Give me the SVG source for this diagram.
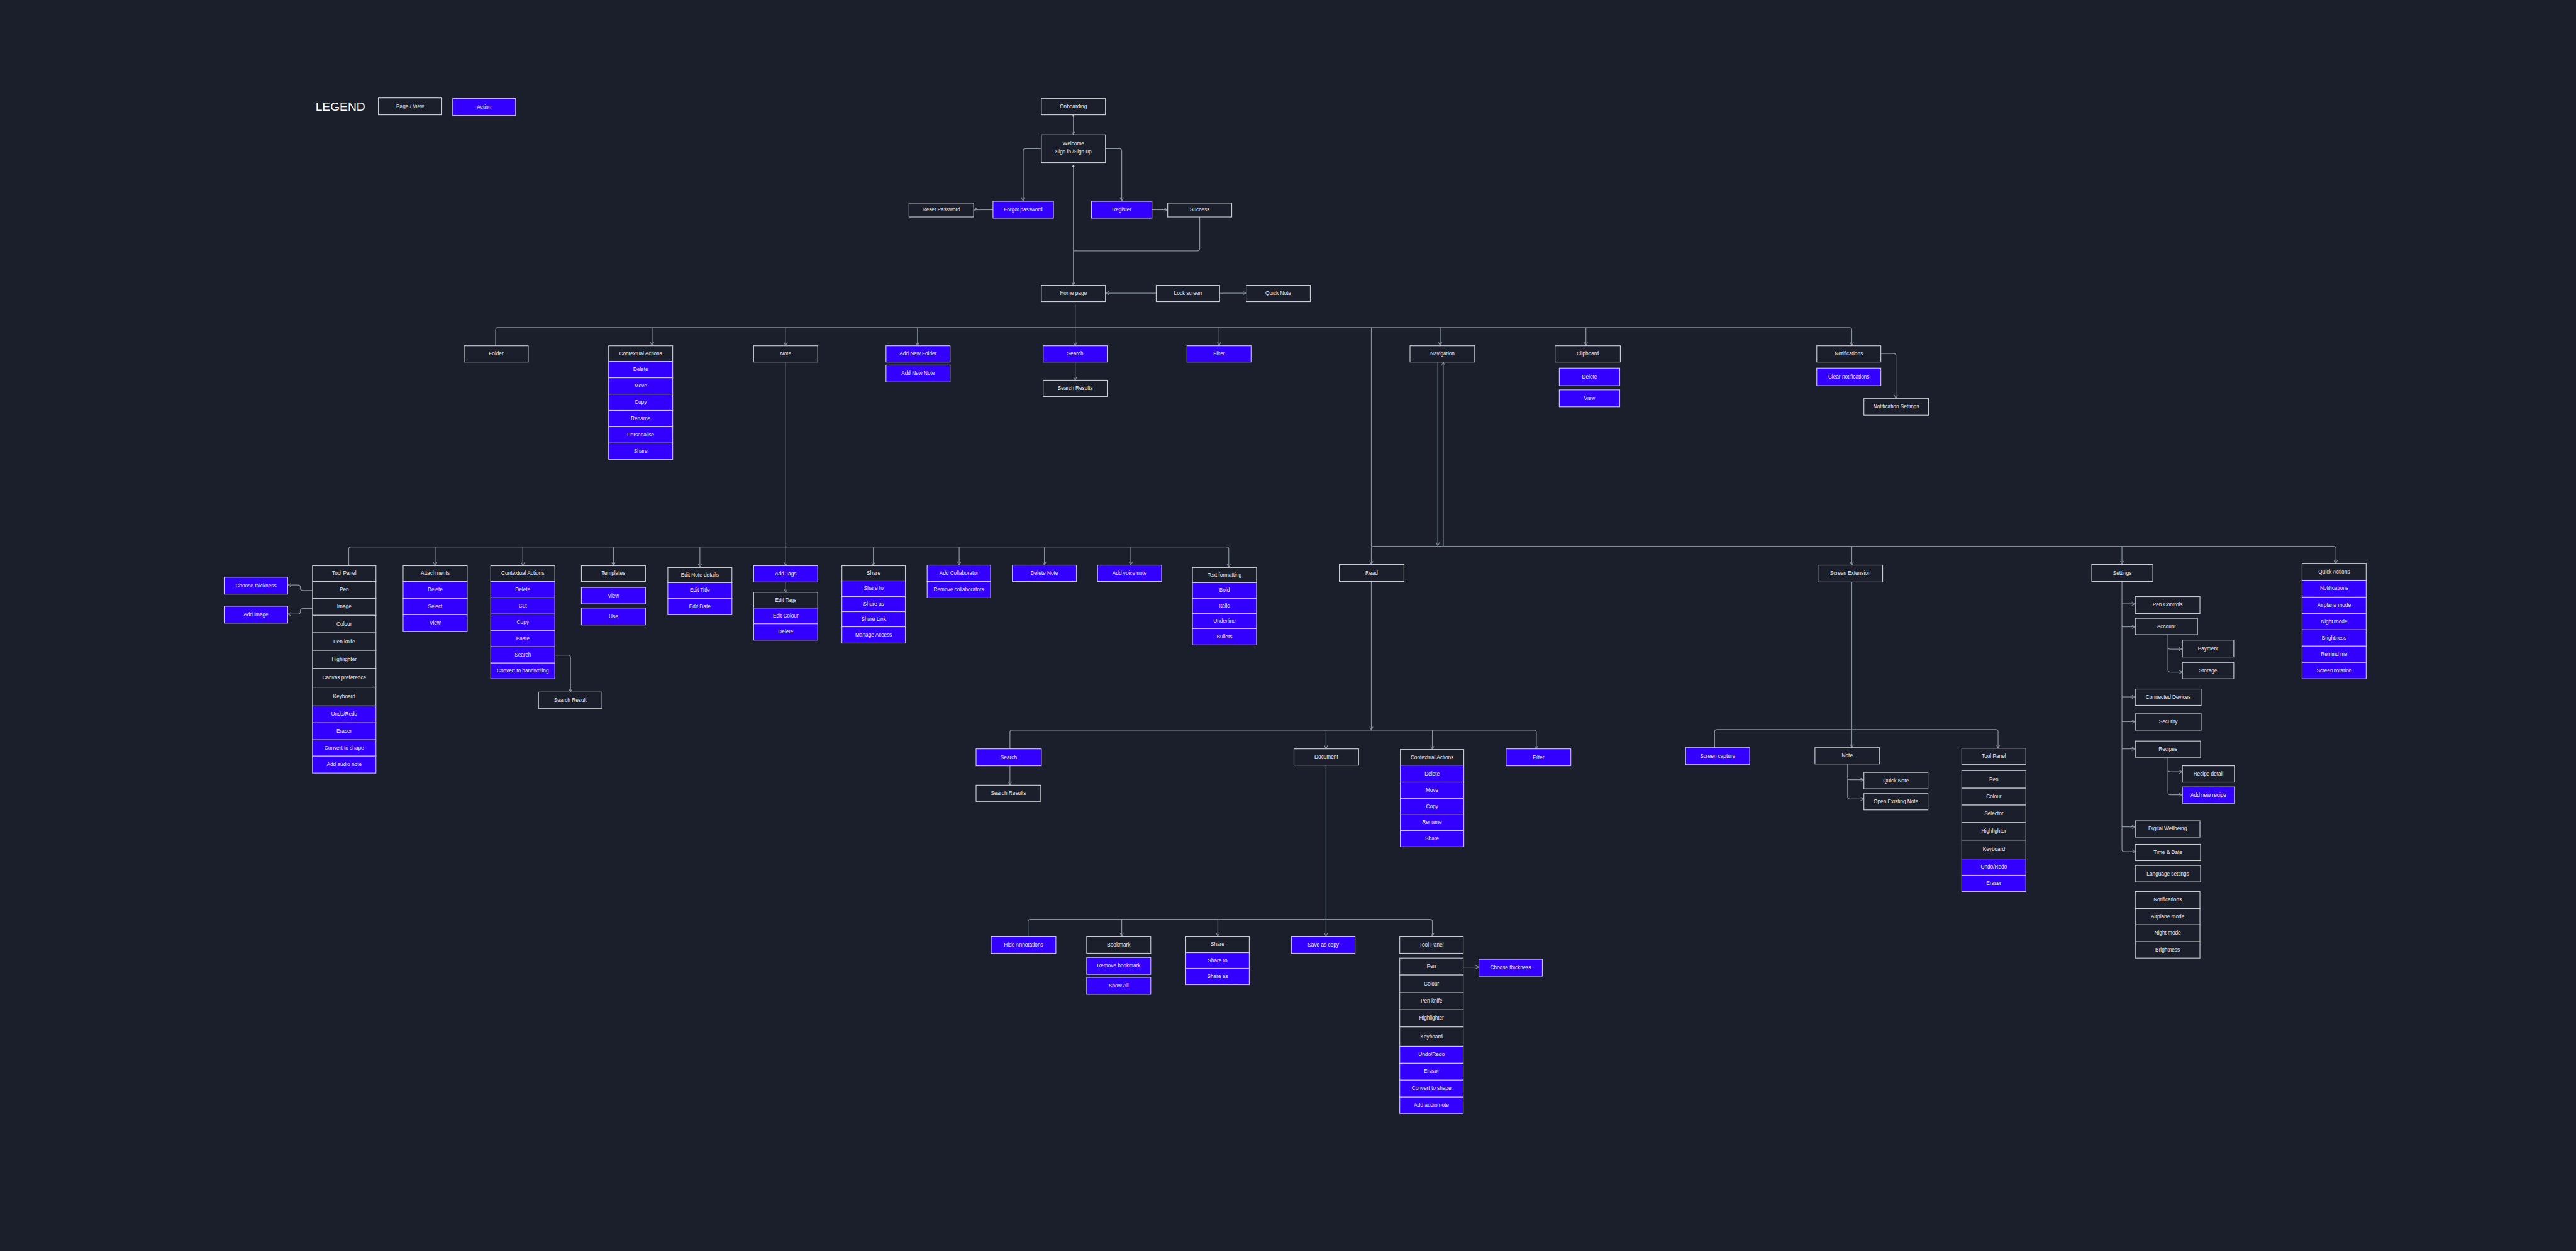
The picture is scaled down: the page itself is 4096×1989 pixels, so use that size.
<svg xmlns="http://www.w3.org/2000/svg" width="4096" height="1989" viewBox="0 0 4096 1989">
<defs>
<style>
.p rect{fill:#1b1f2b;stroke:#c9ccd3;stroke-width:1.2}
.a rect{fill:#3300ff;stroke:#c9c2ff;stroke-width:1.2}
text{font-family:"Liberation Sans",Arial,sans-serif;font-size:8.6px;fill:#eeeef2;text-anchor:middle;dominant-baseline:central}
.lg{font-size:20px;text-anchor:start;fill:#ffffff}
#conn path{fill:none;stroke:#8a8f9c;stroke-width:1.3}
#conn path.m{marker-end:url(#ah)}
#conn circle{fill:#c9ccd3}
</style>
<marker id="ah" viewBox="0 0 10 10" refX="9" refY="5" markerWidth="7" markerHeight="7" markerUnits="userSpaceOnUse" orient="auto"><path d="M1,1 L9,5 L1,9" fill="none" stroke="#8a8f9c" stroke-width="1.5"/></marker>
</defs>
<rect x="0" y="0" width="4096" height="1989" fill="#1b1f2b"/>
<g transform="scale(0.961)">
<g id="conn">
<path class="m" d="M1776,191 V223"/>
<circle cx="1776" cy="191.5" r="1.6"/>
<path class="m" d="M1723,246 H1697 Q1693,246 1693,250 V333"/>
<path class="m" d="M1829,246 H1852 Q1856,246 1856,250 V333"/>
<path class="m" d="M1643,347 H1611"/>
<path class="m" d="M1906,347 H1932"/>
<path d="M1985,358 V411 Q1985,415 1981,415 H1776"/>
<path class="m" d="M1776,275 V472"/>
<circle cx="1776" cy="275" r="1.6"/>
<path class="m" d="M1913,485 H1829"/>
<path class="m" d="M2018,485 H2062"/>
<path class="m" d="M1779,504 V572"/>
<path class="m" d="M820,572 V546 Q820,542 824,542 H3060 Q3064,542 3064,546 V572"/>
<path class="m" d="M1079,542 V572"/>
<path class="m" d="M1300,542 V572"/>
<path class="m" d="M1518,542 V572"/>
<path class="m" d="M2017,542 V572"/>
<path class="m" d="M2383,542 V572"/>
<path class="m" d="M2624,542 V572"/>
<path class="m" d="M1779,599 V629"/>
<path class="m" d="M3112,585 H3133 Q3137,585 3137,589 V659"/>
<path class="m" d="M1300,599 V936"/>
<path class="m" d="M1300,963 V980"/>
<path class="m" d="M577,936 V909 Q577,905 581,905 H2029 Q2033,905 2033,909 V939"/>
<path class="m" d="M720,905 V936"/>
<path class="m" d="M865,905 V936"/>
<path class="m" d="M1015,905 V936"/>
<path class="m" d="M1158,905 V939"/>
<path class="m" d="M1445,905 V936"/>
<path class="m" d="M1587,905 V935"/>
<path class="m" d="M1728,905 V935"/>
<path class="m" d="M1871,905 V935"/>
<path class="m" d="M517,977 H501 Q497,977 497,973 V972 Q497,968 493,968 H476"/>
<path class="m" d="M517,1007 H501 Q497,1007 497,1011 V1012 Q497,1016 493,1016 H476"/>
<path class="m" d="M918,1084 H940 Q944,1084 944,1088 V1145"/>
<path class="m" d="M2269,542 V934"/>
<path class="m" d="M2269,962 V1208"/>
<path class="m" d="M2269,908 Q2269,904 2273,904 H3861 Q3865,904 3865,908 V932"/>
<path class="m" d="M3064,904 V935"/>
<path class="m" d="M3511,904 V934"/>
<path class="m" d="M2379,599 V903"/>
<path class="m" d="M2388,904 V599"/>
<path class="m" d="M1671,1239 V1212 Q1671,1208 1675,1208 H2538 Q2542,1208 2542,1212 V1239"/>
<path class="m" d="M2194,1208 V1239"/>
<path class="m" d="M2370,1208 V1240"/>
<path class="m" d="M1671,1267 V1299"/>
<path class="m" d="M2194,1266 V1549"/>
<path class="m" d="M1701,1549 V1525 Q1701,1521 1705,1521 H2366 Q2370,1521 2370,1525 V1549"/>
<path class="m" d="M1856,1521 V1549"/>
<path class="m" d="M2015,1521 V1549"/>
<path class="m" d="M2421,1600 H2447"/>
<path class="m" d="M3064,963 V1237"/>
<path class="m" d="M2837,1237 V1211 Q2837,1207 2841,1207 H3302 Q3306,1207 3306,1211 V1238"/>
<path class="m" d="M3057,1264 V1286 Q3057,1290 3061,1290 H3084"/>
<path class="m" d="M3057,1288 V1318 Q3057,1322 3061,1322 H3084"/>
<path class="m" d="M3511,962 V1405 Q3511,1409 3515,1409 H3533"/>
<path class="m" d="M3511,999 H3533"/>
<path class="m" d="M3511,1037 H3533"/>
<path class="m" d="M3511,1153 H3533"/>
<path class="m" d="M3511,1194 H3533"/>
<path class="m" d="M3511,1239 H3533"/>
<path class="m" d="M3511,1368 H3533"/>
<path class="m" d="M3587,1050 V1070 Q3587,1074 3591,1074 H3611"/>
<path class="m" d="M3587,1072 V1108 Q3587,1112 3591,1112 H3611"/>
<path class="m" d="M3587,1253 V1273 Q3587,1277 3591,1277 H3611"/>
<path class="m" d="M3587,1275 V1311 Q3587,1315 3591,1315 H3611"/>
</g>

<g id="legend">
<text class="lg" x="522" y="176">LEGEND</text>
<g id="lg-page" class="p"><rect x="626" y="162" width="105" height="28"/><text x="678.5" y="176">Page / View</text></g>
<g id="lg-action" class="a"><rect x="749" y="163" width="104" height="28"/><text x="801" y="177">Action</text></g>
</g>

<g id="n-onboarding" class="p"><rect x="1723" y="163" width="106" height="27"/><text x="1776" y="176.5">Onboarding</text></g>
<g id="n-welcome" class="p"><rect x="1723" y="223" width="106" height="46"/><text x="1776" y="238">Welcome</text><text x="1776" y="251">Sign in /Sign up</text></g>
<g id="n-reset" class="p"><rect x="1504" y="336" width="107" height="23"/><text x="1557.5" y="347.5">Reset Password</text></g>
<g id="n-forgot" class="a"><rect x="1643" y="333" width="100" height="28"/><text x="1693" y="347">Forgot password</text></g>
<g id="n-register" class="a"><rect x="1806" y="333" width="100" height="28"/><text x="1856" y="347">Register</text></g>
<g id="n-success" class="p"><rect x="1932" y="336" width="106" height="23"/><text x="1985" y="347.5">Success</text></g>
<g id="n-home" class="p"><rect x="1723" y="472" width="106" height="27"/><text x="1776" y="485.5">Home page</text></g>
<g id="n-lock" class="p"><rect x="1913" y="472" width="105" height="27"/><text x="1965.5" y="485.5">Lock screen</text></g>
<g id="n-quicknote" class="p"><rect x="2062" y="472" width="106" height="27"/><text x="2115" y="485.5">Quick Note</text></g>

<g id="n-folder" class="p"><rect x="768" y="572" width="106" height="27"/><text x="821" y="585.5">Folder</text></g>
<g id="n-ctx1" class="p"><rect x="1007" y="572" width="106" height="26"/><text x="1060" y="585">Contextual Actions</text></g>
<g id="n-ctx1-delete" class="a"><rect x="1007" y="598" width="106" height="27"/><text x="1060" y="611.5">Delete</text></g>
<g id="n-ctx1-move" class="a"><rect x="1007" y="625" width="106" height="27"/><text x="1060" y="638.5">Move</text></g>
<g id="n-ctx1-copy" class="a"><rect x="1007" y="652" width="106" height="27"/><text x="1060" y="665.5">Copy</text></g>
<g id="n-ctx1-rename" class="a"><rect x="1007" y="679" width="106" height="27"/><text x="1060" y="692.5">Rename</text></g>
<g id="n-ctx1-personalise" class="a"><rect x="1007" y="706" width="106" height="27"/><text x="1060" y="719.5">Personalise</text></g>
<g id="n-ctx1-share" class="a"><rect x="1007" y="733" width="106" height="27"/><text x="1060" y="746.5">Share</text></g>
<g id="n-note" class="p"><rect x="1247" y="572" width="106" height="27"/><text x="1300" y="585.5">Note</text></g>
<g id="n-addfolder" class="a"><rect x="1466" y="572" width="106" height="27"/><text x="1519" y="585.5">Add New Folder</text></g>
<g id="n-addnote" class="a"><rect x="1466" y="604" width="106" height="28"/><text x="1519" y="618">Add New Note</text></g>
<g id="n-search1" class="a"><rect x="1726" y="572" width="106" height="27"/><text x="1779" y="585.5">Search</text></g>
<g id="n-searchres1" class="p"><rect x="1726" y="629" width="106" height="27"/><text x="1779" y="642.5">Search Results</text></g>
<g id="n-filter1" class="a"><rect x="1964" y="572" width="106" height="27"/><text x="2017" y="585.5">Filter</text></g>
<g id="n-navigation" class="p"><rect x="2333" y="572" width="107" height="27"/><text x="2386.5" y="585.5">Navigation</text></g>
<g id="n-clipboard" class="p"><rect x="2573" y="572" width="108" height="27"/><text x="2627" y="585.5">Clipboard</text></g>
<g id="n-clip-delete" class="a"><rect x="2580" y="609" width="100" height="29"/><text x="2630" y="623.5">Delete</text></g>
<g id="n-clip-view" class="a"><rect x="2580" y="645" width="100" height="28"/><text x="2630" y="659">View</text></g>
<g id="n-notifications" class="p"><rect x="3006" y="572" width="106" height="27"/><text x="3059" y="585.5">Notifications</text></g>
<g id="n-clearnotif" class="a"><rect x="3006" y="609" width="106" height="29"/><text x="3059" y="623.5">Clear notifications</text></g>
<g id="n-notifsettings" class="p"><rect x="3084" y="659" width="107" height="28"/><text x="3137.5" y="673">Notification Settings</text></g>

<g id="n-choosethick1" class="a"><rect x="371" y="955" width="105" height="28"/><text x="423.5" y="969">Choose thickness</text></g>
<g id="n-addimage" class="a"><rect x="371" y="1003" width="105" height="28"/><text x="423.5" y="1017">Add image</text></g>
<g id="n-tool1" class="p"><rect x="517" y="936" width="105" height="26"/><text x="569.5" y="949">Tool Panel</text></g>
<g id="n-tool1-pen" class="p"><rect x="517" y="962" width="105" height="28"/><text x="569.5" y="976">Pen</text></g>
<g id="n-tool1-image" class="p"><rect x="517" y="990" width="105" height="28"/><text x="569.5" y="1004">Image</text></g>
<g id="n-tool1-colour" class="p"><rect x="517" y="1018" width="105" height="29"/><text x="569.5" y="1032.5">Colour</text></g>
<g id="n-tool1-penknife" class="p"><rect x="517" y="1047" width="105" height="29"/><text x="569.5" y="1061.5">Pen knife</text></g>
<g id="n-tool1-highlighter" class="p"><rect x="517" y="1076" width="105" height="30"/><text x="569.5" y="1091">Highlighter</text></g>
<g id="n-tool1-canvas" class="p"><rect x="517" y="1106" width="105" height="31"/><text x="569.5" y="1121.5">Canvas preference</text></g>
<g id="n-tool1-keyboard" class="p"><rect x="517" y="1137" width="105" height="31"/><text x="569.5" y="1152.5">Keyboard</text></g>
<g id="n-tool1-undo" class="a"><rect x="517" y="1168" width="105" height="28"/><text x="569.5" y="1182">Undo/Redo</text></g>
<g id="n-tool1-eraser" class="a"><rect x="517" y="1196" width="105" height="28"/><text x="569.5" y="1210">Eraser</text></g>
<g id="n-tool1-shape" class="a"><rect x="517" y="1224" width="105" height="27"/><text x="569.5" y="1237.5">Convert to shape</text></g>
<g id="n-tool1-audio" class="a"><rect x="517" y="1251" width="105" height="28"/><text x="569.5" y="1265">Add audio note</text></g>
<g id="n-attach" class="p"><rect x="667" y="936" width="106" height="26"/><text x="720" y="949">Attachments</text></g>
<g id="n-attach-delete" class="a"><rect x="667" y="962" width="106" height="28"/><text x="720" y="976">Delete</text></g>
<g id="n-attach-select" class="a"><rect x="667" y="990" width="106" height="27"/><text x="720" y="1003.5">Select</text></g>
<g id="n-attach-view" class="a"><rect x="667" y="1017" width="106" height="28"/><text x="720" y="1031">View</text></g>
<g id="n-ctx2" class="p"><rect x="812" y="936" width="106" height="26"/><text x="865" y="949">Contextual Actions</text></g>
<g id="n-ctx2-delete" class="a"><rect x="812" y="962" width="106" height="27"/><text x="865" y="975.5">Delete</text></g>
<g id="n-ctx2-cut" class="a"><rect x="812" y="989" width="106" height="27"/><text x="865" y="1002.5">Cut</text></g>
<g id="n-ctx2-copy" class="a"><rect x="812" y="1016" width="106" height="27"/><text x="865" y="1029.5">Copy</text></g>
<g id="n-ctx2-paste" class="a"><rect x="812" y="1043" width="106" height="27"/><text x="865" y="1056.5">Paste</text></g>
<g id="n-ctx2-search" class="a"><rect x="812" y="1070" width="106" height="27"/><text x="865" y="1083.5">Search</text></g>
<g id="n-ctx2-convert" class="a"><rect x="812" y="1097" width="106" height="26"/><text x="865" y="1110">Convert to handwriting</text></g>
<g id="n-searchresult2" class="p"><rect x="891" y="1145" width="105" height="27"/><text x="943.5" y="1158.5">Search Result</text></g>
<g id="n-templates" class="p"><rect x="962" y="936" width="106" height="26"/><text x="1015" y="949">Templates</text></g>
<g id="n-templates-view" class="a"><rect x="962" y="972" width="106" height="27"/><text x="1015" y="985.5">View</text></g>
<g id="n-templates-use" class="a"><rect x="962" y="1006" width="106" height="28"/><text x="1015" y="1020">Use</text></g>
<g id="n-editdetails" class="p"><rect x="1105" y="939" width="106" height="25"/><text x="1158" y="951.5">Edit Note details</text></g>
<g id="n-edittitle" class="a"><rect x="1105" y="964" width="106" height="26"/><text x="1158" y="977">Edit Title</text></g>
<g id="n-editdate" class="a"><rect x="1105" y="990" width="106" height="27"/><text x="1158" y="1003.5">Edit Date</text></g>
<g id="n-addtags" class="a"><rect x="1247" y="936" width="106" height="27"/><text x="1300" y="949.5">Add Tags</text></g>
<g id="n-edittags" class="p"><rect x="1247" y="980" width="106" height="26"/><text x="1300" y="993">Edit Tags</text></g>
<g id="n-editcolour" class="a"><rect x="1247" y="1006" width="106" height="26"/><text x="1300" y="1019">Edit Colour</text></g>
<g id="n-tags-delete" class="a"><rect x="1247" y="1032" width="106" height="27"/><text x="1300" y="1045.5">Delete</text></g>
<g id="n-share1" class="p"><rect x="1393" y="936" width="105" height="25"/><text x="1445.5" y="948.5">Share</text></g>
<g id="n-share1-to" class="a"><rect x="1393" y="961" width="105" height="26"/><text x="1445.5" y="974">Share to</text></g>
<g id="n-share1-as" class="a"><rect x="1393" y="987" width="105" height="25"/><text x="1445.5" y="999.5">Share as</text></g>
<g id="n-share1-link" class="a"><rect x="1393" y="1012" width="105" height="25"/><text x="1445.5" y="1024.5">Share Link</text></g>
<g id="n-share1-access" class="a"><rect x="1393" y="1037" width="105" height="27"/><text x="1445.5" y="1050.5">Manage Access</text></g>
<g id="n-addcollab" class="a"><rect x="1534" y="935" width="105" height="27"/><text x="1586.5" y="948.5">Add Collaborator</text></g>
<g id="n-removecollab" class="a"><rect x="1534" y="962" width="105" height="27"/><text x="1586.5" y="975.5">Remove collaborators</text></g>
<g id="n-deletenote" class="a"><rect x="1675" y="935" width="106" height="27"/><text x="1728" y="948.5">Delete Note</text></g>
<g id="n-voicenote" class="a"><rect x="1816" y="935" width="106" height="27"/><text x="1869" y="948.5">Add voice note</text></g>
<g id="n-textformat" class="p"><rect x="1973" y="939" width="106" height="25"/><text x="2026" y="951.5">Text formatting</text></g>
<g id="n-bold" class="a"><rect x="1973" y="964" width="106" height="26"/><text x="2026" y="977">Bold</text></g>
<g id="n-italic" class="a"><rect x="1973" y="990" width="106" height="25"/><text x="2026" y="1002.5">Italic</text></g>
<g id="n-underline" class="a"><rect x="1973" y="1015" width="106" height="25"/><text x="2026" y="1027.5">Underline</text></g>
<g id="n-bullets" class="a"><rect x="1973" y="1040" width="106" height="27"/><text x="2026" y="1053.5">Bullets</text></g>
<g id="n-read" class="p"><rect x="2216" y="934" width="107" height="28"/><text x="2269.5" y="948">Read</text></g>
<g id="n-screenext" class="p"><rect x="3008" y="935" width="107" height="28"/><text x="3061.5" y="949">Screen Extension</text></g>
<g id="n-settings" class="p"><rect x="3461" y="934" width="101" height="28"/><text x="3511.5" y="948">Settings</text></g>
<g id="n-quickactions" class="p"><rect x="3809" y="932" width="106" height="28"/><text x="3862" y="946">Quick Actions</text></g>
<g id="n-qa-notif" class="a"><rect x="3809" y="960" width="106" height="28"/><text x="3862" y="974">Notifications</text></g>
<g id="n-qa-airplane" class="a"><rect x="3809" y="988" width="106" height="27"/><text x="3862" y="1001.5">Airplane mode</text></g>
<g id="n-qa-night" class="a"><rect x="3809" y="1015" width="106" height="27"/><text x="3862" y="1028.5">Night mode</text></g>
<g id="n-qa-bright" class="a"><rect x="3809" y="1042" width="106" height="27"/><text x="3862" y="1055.5">Brightness</text></g>
<g id="n-qa-remind" class="a"><rect x="3809" y="1069" width="106" height="27"/><text x="3862" y="1082.5">Remind me</text></g>
<g id="n-qa-rotation" class="a"><rect x="3809" y="1096" width="106" height="27"/><text x="3862" y="1109.5">Screen rotation</text></g>
<g id="n-pencontrols" class="p"><rect x="3533" y="987" width="107" height="28"/><text x="3586.5" y="1001">Pen Controls</text></g>
<g id="n-account" class="p"><rect x="3533" y="1023" width="103" height="27"/><text x="3584.5" y="1036.5">Account</text></g>
<g id="n-payment" class="p"><rect x="3611" y="1059" width="85" height="28"/><text x="3653.5" y="1073">Payment</text></g>
<g id="n-storage" class="p"><rect x="3611" y="1096" width="85" height="27"/><text x="3653.5" y="1109.5">Storage</text></g>
<g id="n-devices" class="p"><rect x="3533" y="1140" width="109" height="27"/><text x="3587.5" y="1153.5">Connected Devices</text></g>
<g id="n-security" class="p"><rect x="3533" y="1181" width="109" height="27"/><text x="3587.5" y="1194.5">Security</text></g>
<g id="n-recipes" class="p"><rect x="3533" y="1226" width="108" height="27"/><text x="3587" y="1239.5">Recipes</text></g>
<g id="n-recipedetail" class="p"><rect x="3611" y="1267" width="86" height="27"/><text x="3654" y="1280.5">Recipe detail</text></g>
<g id="n-addrecipe" class="a"><rect x="3611" y="1302" width="86" height="27"/><text x="3654" y="1315.5">Add new recipe</text></g>
<g id="n-wellbeing" class="p"><rect x="3533" y="1358" width="107" height="27"/><text x="3586.5" y="1371.5">Digital Wellbeing</text></g>
<g id="n-timedate" class="p"><rect x="3533" y="1397" width="108" height="27"/><text x="3587" y="1410.5">Time &amp; Date</text></g>
<g id="n-language" class="p"><rect x="3533" y="1432" width="108" height="27"/><text x="3587" y="1445.5">Language settings</text></g>
<g id="n-st-notif" class="p"><rect x="3533" y="1475" width="107" height="28"/><text x="3586.5" y="1489">Notifications</text></g>
<g id="n-st-airplane" class="p"><rect x="3533" y="1503" width="107" height="27"/><text x="3586.5" y="1516.5">Airplane mode</text></g>
<g id="n-st-night" class="p"><rect x="3533" y="1530" width="107" height="28"/><text x="3586.5" y="1544">Night mode</text></g>
<g id="n-st-bright" class="p"><rect x="3533" y="1558" width="107" height="27"/><text x="3586.5" y="1571.5">Brightness</text></g>

<g id="n-search3" class="a"><rect x="1615" y="1239" width="108" height="28"/><text x="1669" y="1253">Search</text></g>
<g id="n-searchres3" class="p"><rect x="1615" y="1299" width="107" height="27"/><text x="1668.5" y="1312.5">Search Results</text></g>
<g id="n-document" class="p"><rect x="2141" y="1239" width="107" height="27"/><text x="2194.5" y="1252.5">Document</text></g>
<g id="n-ctx3" class="p"><rect x="2317" y="1240" width="105" height="26"/><text x="2369.5" y="1253">Contextual Actions</text></g>
<g id="n-ctx3-delete" class="a"><rect x="2317" y="1266" width="105" height="28"/><text x="2369.5" y="1280">Delete</text></g>
<g id="n-ctx3-move" class="a"><rect x="2317" y="1294" width="105" height="27"/><text x="2369.5" y="1307.5">Move</text></g>
<g id="n-ctx3-copy" class="a"><rect x="2317" y="1321" width="105" height="27"/><text x="2369.5" y="1334.5">Copy</text></g>
<g id="n-ctx3-rename" class="a"><rect x="2317" y="1348" width="105" height="26"/><text x="2369.5" y="1361">Rename</text></g>
<g id="n-ctx3-share" class="a"><rect x="2317" y="1374" width="105" height="27"/><text x="2369.5" y="1387.5">Share</text></g>
<g id="n-filter3" class="a"><rect x="2492" y="1239" width="107" height="28"/><text x="2545.5" y="1253">Filter</text></g>
<g id="n-screencap" class="a"><rect x="2789" y="1237" width="106" height="28"/><text x="2842" y="1251">Screen capture</text></g>
<g id="n-note3" class="p"><rect x="3003" y="1237" width="107" height="27"/><text x="3056.5" y="1250.5">Note</text></g>
<g id="n-quicknote3" class="p"><rect x="3084" y="1278" width="106" height="27"/><text x="3137" y="1291.5">Quick Note</text></g>
<g id="n-openexisting" class="p"><rect x="3084" y="1313" width="106" height="27"/><text x="3137" y="1326.5">Open Existing Note</text></g>
<g id="n-tool3" class="p"><rect x="3246" y="1238" width="106" height="27"/><text x="3299" y="1251.5">Tool Panel</text></g>
<g id="n-tool3-pen" class="p"><rect x="3246" y="1275" width="106" height="29"/><text x="3299" y="1289.5">Pen</text></g>
<g id="n-tool3-colour" class="p"><rect x="3246" y="1304" width="106" height="28"/><text x="3299" y="1318">Colour</text></g>
<g id="n-tool3-selector" class="p"><rect x="3246" y="1332" width="106" height="29"/><text x="3299" y="1346.5">Selector</text></g>
<g id="n-tool3-highlighter" class="p"><rect x="3246" y="1361" width="106" height="29"/><text x="3299" y="1375.5">Highlighter</text></g>
<g id="n-tool3-keyboard" class="p"><rect x="3246" y="1390" width="106" height="31"/><text x="3299" y="1405.5">Keyboard</text></g>
<g id="n-tool3-undo" class="a"><rect x="3246" y="1421" width="106" height="27"/><text x="3299" y="1434.5">Undo/Redo</text></g>
<g id="n-tool3-eraser" class="a"><rect x="3246" y="1448" width="106" height="27"/><text x="3299" y="1461.5">Eraser</text></g>

<g id="n-hideannot" class="a"><rect x="1640" y="1549" width="107" height="28"/><text x="1693.5" y="1563">Hide Annotations</text></g>
<g id="n-bookmark" class="p"><rect x="1798" y="1549" width="106" height="28"/><text x="1851" y="1563">Bookmark</text></g>
<g id="n-removebookmark" class="a"><rect x="1798" y="1584" width="106" height="28"/><text x="1851" y="1598">Remove bookmark</text></g>
<g id="n-showall" class="a"><rect x="1798" y="1617" width="106" height="28"/><text x="1851" y="1631">Show All</text></g>
<g id="n-share4" class="p"><rect x="1962" y="1549" width="105" height="27"/><text x="2014.5" y="1562.5">Share</text></g>
<g id="n-share4-to" class="a"><rect x="1962" y="1576" width="105" height="26"/><text x="2014.5" y="1589">Share to</text></g>
<g id="n-share4-as" class="a"><rect x="1962" y="1602" width="105" height="27"/><text x="2014.5" y="1615.5">Share as</text></g>
<g id="n-saveascopy" class="a"><rect x="2137" y="1549" width="105" height="28"/><text x="2189.5" y="1563">Save as copy</text></g>
<g id="n-tool4" class="p"><rect x="2316" y="1549" width="105" height="28"/><text x="2368.5" y="1563">Tool Panel</text></g>
<g id="n-tool4-pen" class="p"><rect x="2316" y="1585" width="105" height="28"/><text x="2368.5" y="1599">Pen</text></g>
<g id="n-tool4-colour" class="p"><rect x="2316" y="1613" width="105" height="29"/><text x="2368.5" y="1627.5">Colour</text></g>
<g id="n-tool4-penknife" class="p"><rect x="2316" y="1642" width="105" height="28"/><text x="2368.5" y="1656">Pen knife</text></g>
<g id="n-tool4-highlighter" class="p"><rect x="2316" y="1670" width="105" height="29"/><text x="2368.5" y="1684.5">Highlighter</text></g>
<g id="n-tool4-keyboard" class="p"><rect x="2316" y="1699" width="105" height="32"/><text x="2368.5" y="1715">Keyboard</text></g>
<g id="n-tool4-undo" class="a"><rect x="2316" y="1731" width="105" height="28"/><text x="2368.5" y="1745">Undo/Redo</text></g>
<g id="n-tool4-eraser" class="a"><rect x="2316" y="1759" width="105" height="28"/><text x="2368.5" y="1773">Eraser</text></g>
<g id="n-tool4-shape" class="a"><rect x="2316" y="1787" width="105" height="28"/><text x="2368.5" y="1801">Convert to shape</text></g>
<g id="n-tool4-audio" class="a"><rect x="2316" y="1815" width="105" height="27"/><text x="2368.5" y="1828.5">Add audio note</text></g>
<g id="n-choosethick4" class="a"><rect x="2447" y="1587" width="105" height="28"/><text x="2499.5" y="1601">Choose thickness</text></g>
</g>
</svg>
